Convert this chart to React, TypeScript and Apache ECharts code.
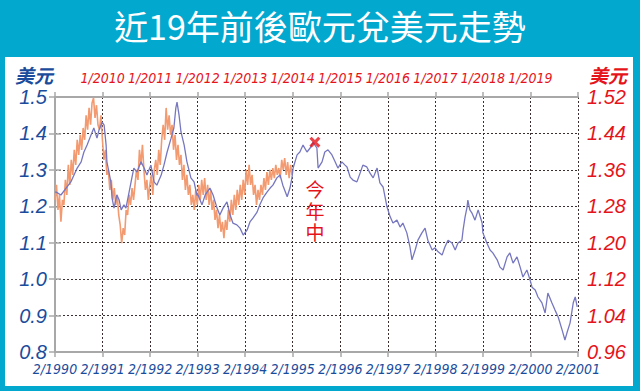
import React, { useEffect, useRef } from 'react';
import * as echarts from 'echarts';

const titleText = '近19年前後歐元兌美元走勢';
const unitLabel = '美元';
const noteChars = ['今', '年', '中'];

// bottom axis: months since Feb 1990 ; top axis: months since Jan 2009
const bottomStartYear = 1990;
const topStartYear = 2009;
const spanMonths = 132;

const leftMin = 0.8;
const leftMax = 1.5;
const leftStep = 0.1;
const rightMin = 0.96;
const rightMax = 1.52;
const rightStep = 0.08;

// Blue series (1990-2001), months since Feb 1990
const blueMonths = [
  0, 0.3, 1.5, 2.8, 4.0, 4.8, 5.6, 6.6, 7.3, 8.1,
  9.1, 9.8, 10.6, 11.1, 11.9, 12.4, 12.9, 13.1, 14.1, 14.4,
  14.9, 15.6, 16.2, 16.7, 17.4, 17.9, 18.7, 19.4, 19.9, 20.7,
  21.7, 22.5, 23.2, 24.2, 25.0, 25.7, 26.8, 27.5, 28.3, 29.3,
  30.0, 30.5, 30.8, 31.3, 31.8, 32.6, 33.3, 34.3, 35.1, 35.8,
  36.1, 37.1, 37.9, 39.1, 39.9, 40.9, 41.6, 42.4, 43.4, 44.2,
  44.9, 45.9, 46.7, 47.5, 48.5, 49.2, 50.0, 51.0, 51.7, 52.5,
  53.5, 54.3, 55.0, 56.0, 56.8, 57.5, 58.6, 59.3, 59.8, 60.1,
  61.1, 61.8, 62.6, 63.6, 64.4, 65.1, 66.1, 66.4, 67.4, 68.1,
  68.9, 69.9, 70.7, 71.4, 72.4, 73.2, 73.7, 74.5, 75.2, 76.2,
  77.0, 77.7, 78.7, 79.5, 80.3, 81.3, 82.0, 82.8, 83.3, 83.8,
  84.6, 85.3, 86.3, 87.1, 87.8, 88.8, 89.6, 90.1, 90.9, 91.6,
  92.6, 93.4, 94.1, 95.2, 95.9, 96.7, 97.7, 98.4, 99.2, 100.2,
  101.0, 101.7, 102.7, 103.0, 103.5, 104.0, 104.2, 104.7, 105.2, 106.0,
  106.8, 107.8, 108.0, 109.0, 109.8, 110.5, 111.6, 112.3, 113.1, 114.1,
  114.8, 115.6, 116.6, 117.4, 118.1, 119.1, 119.9, 120.4, 121.2, 121.9,
  122.9, 123.7, 124.4, 125.4, 126.2, 127.0, 128.0, 128.7, 129.2, 130.0,
  130.8, 131.3, 131.8,
];
const blueValues = [
  1.239, 1.239, 1.231, 1.250, 1.267, 1.286, 1.305, 1.322, 1.349, 1.368,
  1.396, 1.415, 1.387, 1.409, 1.431, 1.423, 1.368, 1.322, 1.267, 1.223,
  1.195, 1.231, 1.217, 1.190, 1.204, 1.195, 1.239, 1.278, 1.305, 1.294,
  1.322, 1.305, 1.286, 1.313, 1.267, 1.258, 1.286, 1.313, 1.349, 1.387,
  1.415, 1.470, 1.486, 1.451, 1.404, 1.368, 1.322, 1.278, 1.267, 1.231,
  1.231, 1.204, 1.231, 1.250, 1.231, 1.195, 1.176, 1.195, 1.212, 1.176,
  1.154, 1.149, 1.140, 1.121, 1.135, 1.157, 1.168, 1.184, 1.204, 1.223,
  1.239, 1.250, 1.258, 1.278, 1.286, 1.258, 1.226, 1.250, 1.278, 1.305,
  1.341, 1.349, 1.368, 1.349, 1.360, 1.376, 1.360, 1.305, 1.322, 1.349,
  1.355, 1.341, 1.322, 1.305, 1.322, 1.313, 1.308, 1.280, 1.272, 1.267,
  1.291, 1.313, 1.308, 1.291, 1.278, 1.305, 1.264, 1.253, 1.226, 1.198,
  1.171, 1.154, 1.162, 1.143, 1.154, 1.127, 1.088, 1.053, 1.080, 1.107,
  1.127, 1.140, 1.107, 1.080, 1.086, 1.075, 1.066, 1.088, 1.107, 1.099,
  1.080, 1.099, 1.107, 1.135, 1.171, 1.198, 1.217, 1.190, 1.182, 1.162,
  1.190, 1.154, 1.127, 1.099, 1.080, 1.072, 1.053, 1.033, 1.025, 1.061,
  1.072, 1.044, 1.061, 1.033, 1.006, 1.025, 0.998, 0.978, 0.970, 0.951,
  0.935, 0.907, 0.962, 0.935, 0.915, 0.896, 0.860, 0.833, 0.852, 0.880,
  0.935, 0.951, 0.924,
];

// Orange series (2009-2014), sampled about every 11 days from Jan 2009
const orangeStepMonths = 0.374;
const orangeValues = [
  1.294, 1.327, 1.272, 1.305, 1.246, 1.294, 1.283, 1.338, 1.305, 1.371,
  1.327, 1.382, 1.349, 1.404, 1.371, 1.426, 1.393, 1.437, 1.404, 1.452,
  1.426, 1.480, 1.448, 1.496, 1.459, 1.507, 1.518, 1.474, 1.502, 1.459,
  1.448, 1.480, 1.426, 1.382, 1.404, 1.349, 1.360, 1.316, 1.338, 1.294,
  1.320, 1.283, 1.305, 1.261, 1.239, 1.199, 1.232, 1.217, 1.272, 1.261,
  1.305, 1.283, 1.320, 1.294, 1.327, 1.360, 1.338, 1.404, 1.371, 1.415,
  1.360, 1.316, 1.338, 1.294, 1.327, 1.349, 1.305, 1.360, 1.382, 1.349,
  1.404, 1.371, 1.426, 1.459, 1.426, 1.496, 1.448, 1.480, 1.437, 1.459,
  1.404, 1.437, 1.382, 1.415, 1.371, 1.393, 1.338, 1.371, 1.316, 1.349,
  1.305, 1.327, 1.283, 1.305, 1.272, 1.316, 1.283, 1.327, 1.294, 1.338,
  1.305, 1.342, 1.294, 1.327, 1.283, 1.316, 1.272, 1.294, 1.250, 1.272,
  1.232, 1.261, 1.224, 1.246, 1.210, 1.250, 1.228, 1.272, 1.246, 1.294,
  1.261, 1.305, 1.272, 1.316, 1.283, 1.327, 1.294, 1.338, 1.305, 1.360,
  1.327, 1.371, 1.327, 1.349, 1.305, 1.327, 1.283, 1.316, 1.294, 1.327,
  1.305, 1.342, 1.316, 1.355, 1.327, 1.360, 1.338, 1.364, 1.342, 1.371,
  1.349, 1.364, 1.342, 1.382, 1.360, 1.386, 1.349, 1.377, 1.342, 1.371,
  1.349,
];

// "今年中" marker on the blue (bottom/left) axes
const markerMonth = 65.6;
const markerValue = 1.376;

const CYAN = '#03a8cf';
const BLUE_TXT = '#1b4c9c';
const RED_TXT = '#e5141b';
const BLUE_LINE = '#7777c0';
const ORANGE_LINE = '#f39a70';
const AXIS_GRAY = '#a8a8a8';
const GRID_DARK = '#3a3030';

export default function App() {
  const ref = useRef<HTMLDivElement>(null);

  useEffect(() => {
    document.body.style.margin = '0';
    if (!ref.current) return;
    const chart = echarts.init(ref.current, undefined, { renderer: 'svg' });

    const blueData = blueMonths.map((m, i) => [m, blueValues[i]]);
    const orangeData = orangeValues.map((v, i) => [+(i * orangeStepMonths).toFixed(3), v]);

    const numFont = "'Liberation Sans', Arial, sans-serif";
    const narrowFont = "'DejaVu Sans Condensed', 'Liberation Sans', sans-serif";
    const cjkFont = "'Noto Sans CJK TC', 'Noto Sans CJK SC', sans-serif";

    const unitStyle = {
      fontSize: 19,
      fontWeight: 'bold',
      fontStyle: 'italic',
      fontFamily: cjkFont,
      textVerticalAlign: 'middle',
    };

    chart.setOption({
      animation: false,
      backgroundColor: '#ffffff',
      title: {
        text: titleText,
        left: 'center',
        top: 8,
        padding: 0,
        textStyle: {
          color: '#ffffff',
          fontSize: 34,
          fontWeight: 'normal',
          fontFamily: cjkFont,
        },
      },
      graphic: [
        { type: 'rect', shape: { x: 0, y: 0, width: 640, height: 57 }, style: { fill: CYAN }, z: -10 },
        { type: 'rect', shape: { x: 0, y: 0, width: 5, height: 391 }, style: { fill: CYAN }, z: -10 },
        { type: 'rect', shape: { x: 633, y: 0, width: 7, height: 391 }, style: { fill: CYAN }, z: -10 },
        { type: 'rect', shape: { x: 0, y: 386, width: 640, height: 5 }, style: { fill: CYAN }, z: -10 },
        {
          type: 'text',
          x: 53,
          y: 74,
          style: { ...unitStyle, text: unitLabel, fill: BLUE_TXT, textAlign: 'right' },
          z: 10,
        },
        {
          type: 'text',
          x: 589,
          y: 74,
          style: { ...unitStyle, text: unitLabel, fill: RED_TXT, textAlign: 'left' },
          z: 10,
        },
        ...noteChars.map((ch, i) => ({
          type: 'text',
          x: 315,
          y: 188.5 + i * 21.5,
          style: {
            text: ch,
            fill: RED_TXT,
            fontSize: 19,
            fontFamily: cjkFont,
            textAlign: 'center',
            textVerticalAlign: 'middle',
          },
          z: 10,
        })),
      ],
      grid: { left: 55, right: 62, top: 97, bottom: 39, containLabel: false },
      xAxis: [
        {
          type: 'value',
          position: 'bottom',
          min: 0,
          max: spanMonths,
          interval: 12,
          axisLine: { show: true, lineStyle: { color: AXIS_GRAY, width: 2 } },
          axisTick: { show: true, length: 5, lineStyle: { color: AXIS_GRAY, width: 1.5 } },
          axisLabel: {
            color: BLUE_TXT,
            fontSize: 14,
            fontStyle: 'italic',
            fontFamily: narrowFont,
            margin: 10,
            showMinLabel: true,
            showMaxLabel: true,
            hideOverlap: false,
            formatter: (v: number) => `2/${bottomStartYear + Math.round(v / 12)}`,
          },
          splitLine: { show: true, lineStyle: { color: GRID_DARK, width: 1, type: [2, 2] } },
        },
        {
          type: 'value',
          position: 'top',
          min: 0,
          max: spanMonths,
          interval: 12,
          axisLine: { show: true, lineStyle: { color: AXIS_GRAY, width: 2 } },
          axisTick: { show: true, length: 5, lineStyle: { color: AXIS_GRAY, width: 1.5 } },
          axisLabel: {
            color: RED_TXT,
            fontSize: 14,
            fontStyle: 'italic',
            fontFamily: narrowFont,
            margin: 12,
            formatter: (v: number) =>
              v <= 0 || v >= spanMonths ? '' : `1/${topStartYear + Math.round(v / 12)}`,
          },
          splitLine: { show: false },
        },
      ],
      yAxis: [
        {
          type: 'value',
          position: 'left',
          min: leftMin,
          max: leftMax,
          interval: leftStep,
          axisLine: { show: true, lineStyle: { color: AXIS_GRAY, width: 2 } },
          axisTick: { show: true, length: 6, lineStyle: { color: AXIS_GRAY, width: 1.5 } },
          axisLabel: {
            color: BLUE_TXT,
            fontSize: 20,
            fontStyle: 'italic',
            fontFamily: numFont,
            margin: 8,
            showMinLabel: true,
            showMaxLabel: true,
            formatter: (v: number) => v.toFixed(1),
          },
          splitLine: { show: true, lineStyle: { color: GRID_DARK, width: 1, type: [2, 2] } },
        },
        {
          type: 'value',
          position: 'right',
          min: rightMin,
          max: rightMax,
          interval: rightStep,
          axisLine: { show: true, lineStyle: { color: AXIS_GRAY, width: 2 } },
          axisTick: { show: true, length: 6, lineStyle: { color: AXIS_GRAY, width: 1.5 } },
          axisLabel: {
            color: RED_TXT,
            fontSize: 20,
            fontStyle: 'italic',
            fontFamily: numFont,
            margin: 9,
            showMinLabel: true,
            showMaxLabel: true,
            formatter: (v: number) => v.toFixed(2),
          },
          splitLine: { show: false },
        },
      ],
      series: [
        {
          type: 'line',
          name: '2009-2014',
          xAxisIndex: 1,
          yAxisIndex: 1,
          data: orangeData,
          showSymbol: false,
          lineStyle: { color: ORANGE_LINE, width: 1.6 },
          z: 3,
        },
        {
          type: 'line',
          name: '1990-2001',
          xAxisIndex: 0,
          yAxisIndex: 0,
          data: blueData,
          showSymbol: false,
          lineStyle: { color: BLUE_LINE, width: 1.3 },
          z: 4,
        },
        {
          type: 'scatter',
          xAxisIndex: 0,
          yAxisIndex: 0,
          data: [[markerMonth, markerValue]],
          symbol: 'path://M2,0 L5,3 L8,0 L10,2 L7,5 L10,8 L8,10 L5,7 L2,10 L0,8 L3,5 L0,2 Z',
          symbolSize: 11,
          itemStyle: { color: RED_TXT },
          z: 6,
        },
      ],
    });

    return () => chart.dispose();
  }, []);

  return <div ref={ref} style={{ width: 640, height: 391 }} />;
}
